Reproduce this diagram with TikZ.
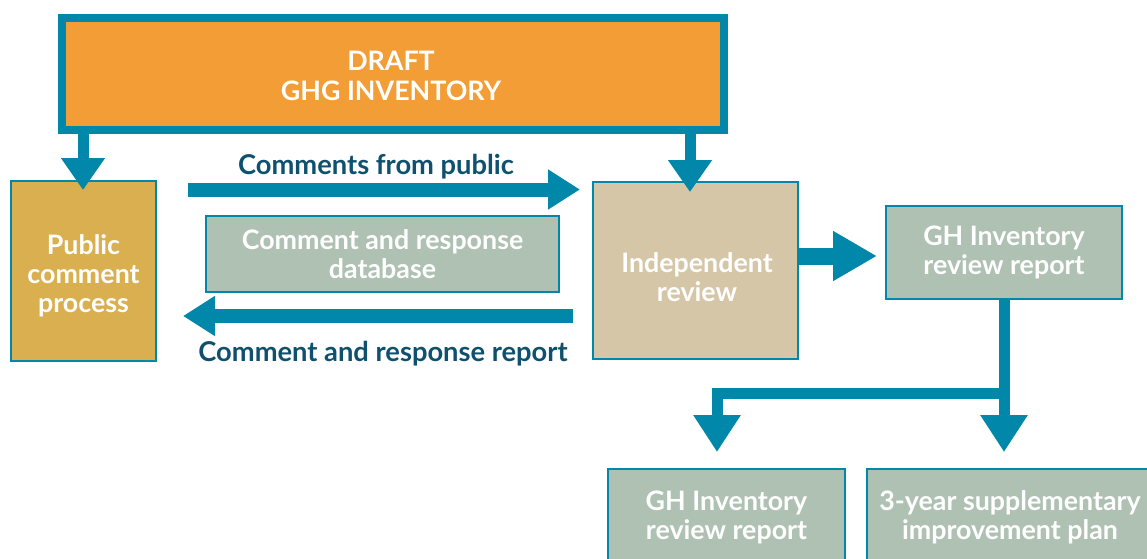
\documentclass[tikz,border=0pt]{standalone}
\usepackage{fontspec}
\setmainfont{Lato}
\usetikzlibrary{arrows.meta}
\definecolor{ghteal}{RGB}{0,135,170}
\definecolor{ghorange}{RGB}{243,157,54}
\definecolor{ghgold}{RGB}{218,175,80}
\definecolor{ghtan}{RGB}{214,198,168}
\definecolor{ghsage}{RGB}{175,193,179}
\definecolor{ghdark}{RGB}{14,80,110}
\begin{document}
\begin{tikzpicture}[x=1pt,y=-1pt,
  box/.style={draw=ghteal, line width=2pt, align=center, text=white, inner sep=0pt,
    font=\bfseries\fontsize{26.8}{28.5}\selectfont},
  boxtext/.style={align=center, text=white, inner sep=0pt, font=\bfseries\fontsize{26.8}{29}\selectfont},
  flowlabel/.style={text=ghdark, inner sep=0pt, font=\bfseries\fontsize{27.3}{30}\selectfont},
  hflow/.style={draw=ghteal, line width=14pt, -{Triangle[width=38pt,length=32pt]}},
  bigflow/.style={draw=ghteal, line width=17pt, -{Triangle[width=47pt,length=44pt]}},
  downflow/.style={draw=ghteal, line width=11pt, -{Triangle[width=42pt,length=32pt]}},
  branchflow/.style={draw=ghteal, line width=11pt, line join=miter, -{Triangle[width=45pt,length=37pt]}}]
\useasboundingbox (0,0) rectangle (1147,558);

% boxes
\node[box, fill=ghorange, line width=8pt, minimum width=662pt, minimum height=112pt] (draft) at (393,74) {};
\node[boxtext, font=\bfseries\fontsize{26.8}{30}\selectfont] (drafttext) at (391,76) {DRAFT\\GHG INVENTORY};
\node[box, fill=ghgold, minimum width=145pt, minimum height=180pt] (public) at (83.5,271) {};
\node[boxtext] (publictext) at (83.5,276) {Public\\comment\\process};
\node[box, fill=ghsage, minimum width=353pt, minimum height=76pt] (db) at (382.5,254) {Comment and response\\database};
\node[box, fill=ghtan, minimum width=205pt, minimum height=177pt] (indep) at (695.5,270.5) {};
\node[boxtext] (indeptext) at (697,277) {Independent\\review};
\node[box, fill=ghsage, minimum width=236pt, minimum height=93pt] (ghr) at (1004,252.5) {GH Inventory\\review report};
\node[box, fill=ghsage, minimum width=237pt, minimum height=97pt] (ghr2) at (726.5,517.5) {GH Inventory\\review report};
\node[box, fill=ghsage, minimum width=286pt, minimum height=97pt] (plan) at (1010,517.5) {3-year supplementary\\improvement plan};

% labels
\node[flowlabel] (lblpublic) at (376,167) {Comments from public};
\node[flowlabel] (lblreport) at (383,354) {Comment and response report};

% coordinates
\coordinate (t1) at (83,190);
\coordinate (t2) at (690,192);
\coordinate (c1s) at (188,189.5);
\coordinate (c1e) at (580,189.5);
\coordinate (c2s) at (573,316);
\coordinate (c2e) at (183,316);
\coordinate (t3) at (877,256);
\coordinate (jn) at (1004,393);
\coordinate (tipL) at (717,452);
\coordinate (tipR) at (1004,452);

% connectors
\draw[downflow] (draft.south -| t1) -- (t1);
\draw[downflow] (draft.south -| t2) -- (t2);
\draw[hflow] (c1s) -- (c1e);
\draw[hflow] (c2s) -- (c2e);
\draw[bigflow] (indep.east |- t3) -- (t3);
\draw[branchflow] (ghr.south) -- (tipR);
\draw[branchflow] (jn) -| (tipL);
\end{tikzpicture}
\end{document}
